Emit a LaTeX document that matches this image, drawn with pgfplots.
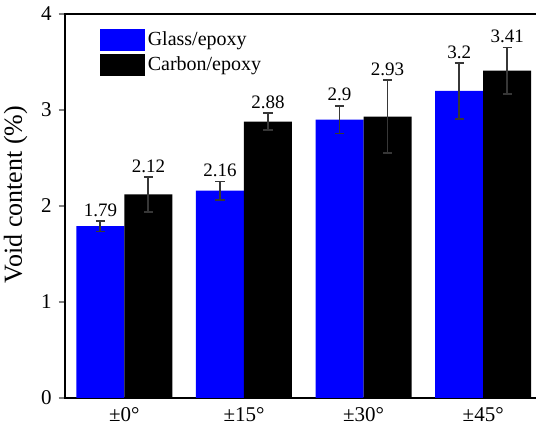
\documentclass[border=0pt]{standalone}
\usepackage{pgfplots}
\pgfplotsset{compat=1.18}
\usepackage{pgfplotstable}
\usepackage{fontspec}
\setmainfont{Liberation Serif}
\definecolor{gbl}{RGB}{0,0,255}
\definecolor{ebar}{RGB}{55,55,55}
\pgfplotstableread{
x y err
0 1.79 0.055
1 2.16 0.095
2 2.90 0.145
3 3.20 0.29
}\glass
\pgfplotstableread{
x y err
0 2.12 0.18
1 2.88 0.09
2 2.93 0.38
3 3.41 0.24
}\carbon
\begin{document}
\begin{tikzpicture}
\begin{axis}[
  scale only axis,
  width=239.2pt, height=192pt,
  ybar=0pt, bar width=24pt,
  xmin=-0.5, xmax=3.5, ymin=0, ymax=4,
  xtick={0,1,2,3},
  xticklabels={±0°,±15°,±30°,±45°},
  ytick={0,1,2,3,4},
  ytick pos=left,
  major x tick style={draw=none},
  tick align=outside, major tick length=3pt,
  /pgf/number format/assume math mode=true,
  tick label style={font=\fontsize{10.5}{12}\selectfont},
  xticklabel style={yshift=2pt},
  axis line style={line width=1pt},
  ytick style={line width=0.8pt},
  ylabel={Void content (\%)},
  ylabel style={font=\fontsize{13}{15}\selectfont, at={(ticklabel cs:0.53)}},
  nodes near coords,
  nodes near coords style={font=\fontsize{9.5}{11}\selectfont, yshift=\eshift pt, inner sep=2pt},
  visualization depends on={48*\thisrow{err} \as \eshift},
  legend style={at={(rel axis cs:0,1)}, anchor=north west, xshift=17.7pt, yshift=-7.5pt,
    draw=none, fill=none, font=\fontsize{10}{12}\selectfont, inner sep=0pt, row sep=1.2pt,
    nodes={inner sep=1.2pt}},
  legend cell align=left,
]
\addplot[fill=gbl, draw=none,
  legend image code/.code={\fill[gbl] (0pt,-5.5pt) rectangle (22.5pt,5.5pt);},
  error bars/.cd, y dir=both, y explicit,
  error bar style={ebar, line width=0.9pt},
  error mark options={rotate=90, mark size=2.3pt, ebar, line width=0.9pt}]
  table[x=x, y=y, y error=err] {\glass};
\addplot[fill=black, draw=none,
  legend image code/.code={\fill[black] (0pt,-5.5pt) rectangle (22.5pt,5.5pt);},
  error bars/.cd, y dir=both, y explicit,
  error bar style={ebar, line width=0.9pt},
  error mark options={rotate=90, mark size=2.3pt, ebar, line width=0.9pt}]
  table[x=x, y=y, y error=err] {\carbon};
\legend{Glass/epoxy, Carbon/epoxy}
\coordinate (bl) at (rel axis cs:0,0);
\coordinate (tr) at (rel axis cs:1,1);
\end{axis}
\pgfresetboundingbox
\path[use as bounding box] ([shift={(-32.3pt,-13.5pt)}]bl) rectangle ([shift={(-3.5pt,7pt)}]tr);
\end{tikzpicture}
\end{document}
